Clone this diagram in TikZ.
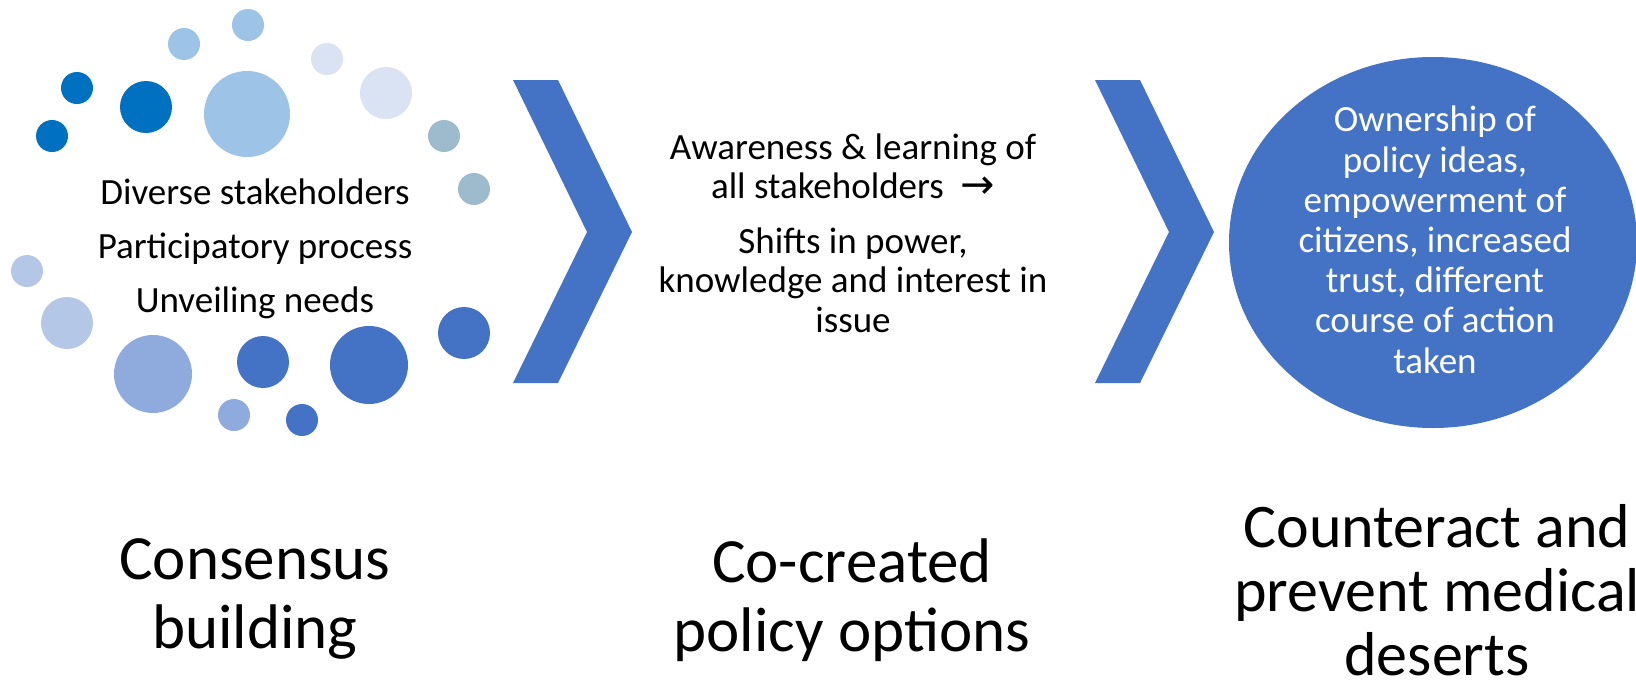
\documentclass[tikz,border=0pt]{standalone}
\usepackage{fontspec}
\setmainfont{Carlito}
\newfontfamily\arrowfont{DejaVu Sans}
\definecolor{lightblue}{HTML}{9DC3E6}
\definecolor{paleblue}{HTML}{DAE3F3}
\definecolor{deepblue}{HTML}{0070C0}
\definecolor{greyblue}{HTML}{9DBBCD}
\definecolor{softblue}{HTML}{B4C7E7}
\definecolor{midblue}{HTML}{8FAADC}
\definecolor{mainblue}{HTML}{4472C4}
\tikzset{
  bodytext/.style={align=center, inner sep=0pt, anchor=base, font=\fontsize{37}{39.5}\selectfont},
  goalfont/.style={align=center, inner sep=0pt, anchor=base, text=white, font=\fontsize{37}{40.2}\selectfont},
  listtext/.style={align=center, inner sep=0pt, anchor=base, font=\fontsize{37}{54}\selectfont},
  titletext/.style={align=center, inner sep=0pt, anchor=base, font=\fontsize{63}{69}\selectfont},
  chevron/.style={fill=mainblue}
}
\begin{document}
\begin{tikzpicture}[x=1pt,y=-1pt]
\useasboundingbox (0,0) rectangle (1636,686);
\fill[white] (0,0) rectangle (1636,686);
% bubbles
\fill[lightblue] (248,25) circle (16);
\fill[lightblue] (184,44) circle (16);
\fill[paleblue] (327,59) circle (16);
\fill[deepblue] (77,88) circle (16);
\fill[deepblue] (146,107) circle (26);
\fill[lightblue] (247,114) circle (43);
\fill[paleblue] (386,93) circle (26);
\fill[deepblue] (52,136) circle (16);
\fill[greyblue] (444,136) circle (16);
\fill[greyblue] (474,189) circle (16);
\fill[softblue] (27,271) circle (16);
\fill[softblue] (67,323) circle (26);
\fill[midblue] (153,374) circle (39);
\fill[mainblue] (263,362) circle (26);
\fill[mainblue] (369,365) circle (39);
\fill[mainblue] (464,333) circle (26);
\fill[midblue] (234,415) circle (16);
\fill[mainblue] (302,420) circle (16);
% chevrons
\fill[chevron] (513,80) -- (558,80) -- (632,232) -- (558,383) -- (513,383) -- (587,232) -- cycle;
\fill[chevron] (1095,80) -- (1140,80) -- (1214,232) -- (1140,383) -- (1095,383) -- (1169,232) -- cycle;
% outcome ellipse
\fill[mainblue] (1433,242.5) ellipse [x radius=204, y radius=185.5];
% texts
\node[listtext] (inputs) at (255,312) {Diverse stakeholders\\Participatory process\\Unveiling needs};
\node[bodytext] (process) at (853,332) {Awareness \& learning of\\all stakeholders\ \ {\arrowfont\fontsize{41}{39.5}\selectfont →}\\[15pt]Shifts in power,\\knowledge and interest in\\issue};
\node[goalfont] (goaltext) at (1435,373) {Ownership of\\policy ideas,\\empowerment of\\citizens, increased\\trust, different\\course of action\\taken};
\node[titletext] (t1) at (255,648) {Consensus\\building};
\node[titletext] (t2) at (852,651) {Co-created\\policy options};
\node[titletext, font=\fontsize{62}{64}\selectfont] (t3) at (1437,675) {Counteract and\\prevent medical\\deserts};
\end{tikzpicture}
\end{document}
